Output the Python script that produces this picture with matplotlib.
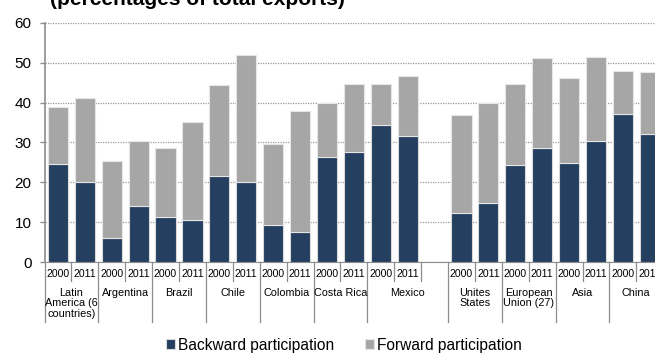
import numpy as np
import matplotlib
matplotlib.use("Agg")
import matplotlib.pyplot as plt
from matplotlib.lines import Line2D
import matplotlib.transforms as mtransforms

plt.rcParams['font.family'] = ['Liberation Sans', 'DejaVu Sans']

# groups and the year slots under each one (Mexico carries an empty slot)
groups = ["Latin\nAmerica (6\ncountries)", "Argentina", "Brazil", "Chile", "Colombia",
          "Costa Rica", "Mexico", "Unites\nStates", "European\nUnion (27)", "Asia", "China"]
group_years = [["2000", "2011"]] * 6 + [["2000", "2011", ""]] + [["2000", "2011"]] * 4

backward = [24.6, 20.0, 6.1, 14.0, 11.2, 10.5, 21.6, 20.0, 9.3, 7.5, 26.4, 27.6,
            34.3, 31.7, 12.4, 14.8, 24.4, 28.6, 24.9, 30.4, 37.2, 32.1]
total = [38.9, 41.1, 25.4, 30.5, 28.7, 35.2, 44.4, 51.9, 29.7, 37.8, 39.9, 44.6,
         44.8, 46.8, 36.9, 39.8, 44.6, 51.1, 46.3, 51.5, 47.9, 47.7]
forward = [t - b for t, b in zip(total, backward)]

back_color = "#243F60"
fwd_color = "#A6A6A6"
sep_color = "#8C8C8C"

# slot positions
xs = []
year_labels = []
group_bounds = []
slot = 0
for yrs in group_years:
    start = slot
    for y in yrs:
        year_labels.append((slot, y))
        if y:
            xs.append(slot)
        slot += 1
    group_bounds.append((start - 0.5, slot - 0.5))
n_slots = slot

W, H = 655, 354
fig = plt.figure(figsize=(W / 100, H / 100), dpi=100)
left_px, right_px, top_px, bot_px = 44.5, 663.2, 23, 262
ax = fig.add_axes([left_px / W, (H - bot_px) / H, (right_px - left_px) / W, (bot_px - top_px) / H])

bw = 0.75
b1 = ax.bar(xs, backward, width=bw, color=back_color, edgecolor="#D9D9D9", linewidth=0.8, zorder=3,
            label="Backward participation")
b2 = ax.bar(xs, forward, width=bw, bottom=backward, color=fwd_color, edgecolor="#E6E6E6", linewidth=0.8,
            zorder=3, label="Forward participation")

ax.set_xlim(-0.5, n_slots - 0.5)
ax.set_ylim(0, 60)
ax.set_yticks(range(0, 61, 10))
ax.yaxis.grid(True, linestyle=(0, (1, 1)), color="#999999", linewidth=0.9, zorder=0)
ax.set_xticks([])
for s in ["top", "right"]:
    ax.spines[s].set_visible(False)
ax.spines["left"].set_color(sep_color)
ax.spines["bottom"].set_color(sep_color)
ax.spines["left"].set_linewidth(1.2)
ax.tick_params(axis="y", colors=sep_color, labelcolor="black", labelsize=11, length=3.4, width=1, pad=6)

# category table under the axis
trans = mtransforms.blended_transform_factory(ax.transData, ax.transAxes)
ax_h_px = bot_px - top_px
def yfrac(px):
    return -(px - bot_px) / ax_h_px

long_bounds = set()
for a, b in group_bounds:
    long_bounds.add(a)
    long_bounds.add(b)
for xb in sorted(long_bounds):
    ax.add_line(Line2D([xb, xb], [0, yfrac(322)], transform=trans, color=sep_color, lw=0.9, clip_on=False))
for s, y in year_labels:
    xb = s + 0.5
    if xb not in long_bounds:
        ax.add_line(Line2D([xb, xb], [0, yfrac(281)], transform=trans, color=sep_color, lw=0.9, clip_on=False))
    if y:
        ax.text(s, yfrac(274), y, transform=trans, ha="center", va="center", fontsize=7.6)
for (a, b), g in zip(group_bounds, groups):
    ax.text((a + b) / 2, yfrac(287.5), g, transform=trans, ha="center", va="top", fontsize=7.8,
            linespacing=1.1)

fig.text(50 / W, 1 - 5 / H, "(percentages of total exports)", fontsize=15, fontweight="bold",
         ha="left", va="baseline")

fig.legend(handles=[b1, b2], loc="center", bbox_to_anchor=(0.525, 0.025), ncol=2, frameon=False,
           fontsize=11.2, handlelength=0.55, handleheight=0.55, handletextpad=0.2, columnspacing=2.0)

fig.savefig("out.png", dpi=100)
